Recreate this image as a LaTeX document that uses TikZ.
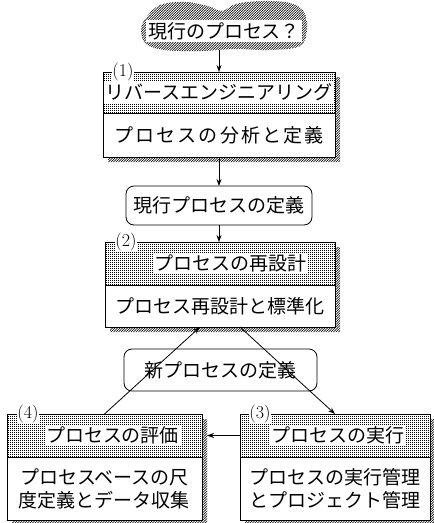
\documentclass[tikz,border=0pt]{standalone}
\usepackage{fontspec}
\newfontfamily\jp{Noto Sans CJK JP}
\usetikzlibrary{patterns,arrows.meta,calc}
\pgfdeclarepatternformonly{gdots}{\pgfqpoint{0pt}{0pt}}{\pgfqpoint{2pt}{2pt}}{\pgfqpoint{2pt}{2pt}}{\pgfpathrectangle{\pgfqpoint{0pt}{0pt}}{\pgfqpoint{1.3pt}{1.3pt}}\pgfusepath{fill}}
\pgfdeclarepatternformonly{ghatch}{\pgfqpoint{-1pt}{-1pt}}{\pgfqpoint{3.5pt}{3.5pt}}{\pgfqpoint{2.5pt}{2.5pt}}{\pgfsetlinewidth{0.6pt}\pgfpathmoveto{\pgfqpoint{-0.2pt}{-0.2pt}}\pgfpathlineto{\pgfqpoint{2.7pt}{2.7pt}}\pgfusepath{stroke}}
\newcommand\dropshade[2]{\fill[shade] ($(#1.north east)+(0,5)$) -- ($(#1.north east)+(5,5)$) -- ($(#2.south east)+(5,5)$) -- ($(#2.south west)+(5,5)$) -- ($(#2.south west)+(5,0)$) -- (#2.south east) -- cycle;}
\begin{document}
\begin{tikzpicture}[x=1pt,y=-1pt,
  every node/.style={inner sep=0pt, outer sep=0pt},
  hdr/.style={draw, line width=0.8pt, pattern=gdots, pattern color=black, rectangle},
  bodybox/.style={draw, line width=0.8pt, fill=white, rectangle},
  ttl/.style={fill=white, inner sep=1.5pt, font=\jp\fontsize{19}{22}\selectfont},
  txt/.style={font=\jp\fontsize{19}{23}\selectfont, align=center},
  num/.style={fill=white, inner sep=0.6pt, font=\fontsize{18}{18}\selectfont},
  rbox/.style={draw, line width=0.8pt, rounded corners=8pt, fill=white, font=\jp\fontsize{19}{22}\selectfont},
  arr/.style={line width=0.8pt, -{Stealth[length=7pt,width=5pt]}},
  shade/.style={pattern=ghatch, draw=none}
]
\useasboundingbox (0,0) rectangle (434,523);

% cloud
\fill[pattern=ghatch] plot[smooth cycle, tension=0.6] coordinates {
  (146,18) (160,5) (185,2) (208,6) (222,11) (236,4) (262,1) (290,3) (304,12)
  (307,30) (300,46) (270,50) (235,49) (200,51) (165,50) (146,44) (141,30)};
\node[fill=white, inner sep=2pt, font=\jp\fontsize{19}{22}\selectfont] (q) at (224,31) {現行のプロセス？};
\coordinate (qb) at (219,50);

% box 1
\node[hdr, minimum width=232pt, minimum height=41pt] (h1) at (219,92.5) {};
\node[bodybox, minimum width=232pt, minimum height=44pt, anchor=north] (b1) at (h1.south) {};
\dropshade{h1}{b1}
\node[ttl] (t1) at (h1.center) {リバースエンジニアリング};
\node[txt] (s1) at (b1.center) {\addfontfeature{LetterSpace=11}プロセスの分析と定義};
\node[num] (n1) at (123,72) {(1)};

% rounded box A
\node[rbox, minimum width=186pt, minimum height=39pt] (A) at (219,205.5) {現行プロセスの定義};

% box 2
\node[hdr, minimum width=230pt, minimum height=43pt] (h2) at (220,263.5) {};
\node[bodybox, minimum width=230pt, minimum height=42pt, anchor=north] (b2) at (h2.south) {};
\dropshade{h2}{b2}
\node[ttl] (t2) at ([xshift=10pt]h2.center) {プロセスの再設計};
\node[txt] (s2) at (b2.center) {プロセス再設計と標準化};
\node[num] (n2) at (126,242) {(2)};

% rounded box B
\node[rbox, minimum width=193pt, minimum height=42pt] (B) at (220.5,370) {新プロセスの定義};

% box 4
\node[hdr, minimum width=195pt, minimum height=43pt] (h4) at (104.5,435.5) {};
\node[bodybox, minimum width=195pt, minimum height=63pt, anchor=north] (b4) at (h4.south) {};
\dropshade{h4}{b4}
\node[ttl] (t4) at ([xshift=8pt]h4.center) {プロセスの評価};
\node[txt] (s4) at (b4.center) {プロセスベースの尺\\度定義とデータ収集};
\node[num] (n4) at (28,414) {(4)};

% box 3
\node[hdr, minimum width=190pt, minimum height=43pt] (h3) at (335,435.5) {};
\node[bodybox, minimum width=190pt, minimum height=63pt, anchor=north] (b3) at (h3.south) {};
\dropshade{h3}{b3}
\node[ttl] (t3) at ([xshift=3pt]h3.center) {プロセスの実行};
\node[txt] (s3) at (b3.center) {プロセスの実行管理\\とプロジェクト管理};
\node[num] (n3) at (260,414) {(3)};

% arrows
\draw[arr] (qb) -- (h1.north);
\draw[arr] (b1.south) -- (b1.south |- A.north);
\draw[arr] (A.south) -- (A.south |- h2.north);
\draw[arr] (h4.north) -- ($(b2.south)+(-20,0)$);
\draw[arr] ($(b2.south)+(20,0)$) -- (h3.north);
\draw[arr] (h3.west) -- ($(h4.east)+(5,0)$);
\end{tikzpicture}
\end{document}
